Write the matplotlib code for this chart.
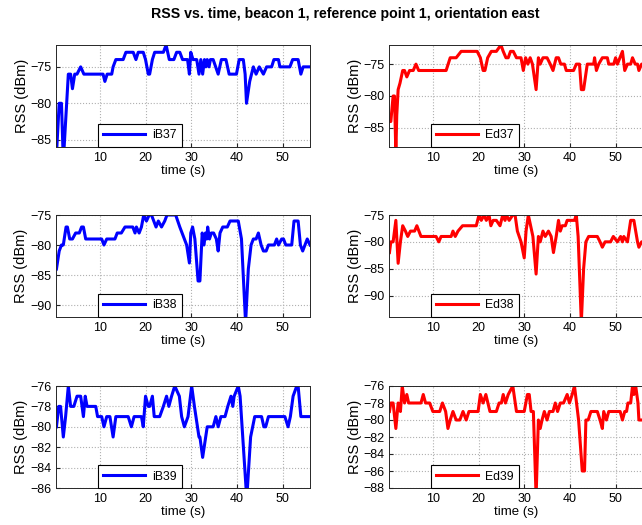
import matplotlib
matplotlib.use("Agg")
import matplotlib.pyplot as plt

plt.rcParams["font.family"] = ["Liberation Sans", "DejaVu Sans"]

# ---- data (time in s, RSS in dBm) ----
t_ib37 = [0.5, 1.1, 1.6, 2.0, 3.1, 3.6, 4.0, 4.5, 5.0, 5.8,
          6.5, 10.7, 11.1, 11.6, 12.6, 12.9, 13.5, 15.1, 15.7, 17.3,
          17.9, 18.4, 19.5, 20.0, 20.6, 20.9, 21.5, 22.0, 23.9, 24.5,
          25.2, 26.2, 26.8, 27.5, 28.1, 29.2, 29.6, 29.9, 30.4, 31.2,
          31.7, 32.1, 32.5, 32.9, 33.2, 33.5, 33.9, 34.2, 34.8, 35.9,
          36.6, 37.6, 38.3, 39.9, 40.5, 41.4, 41.8, 42.1, 42.8, 43.6,
          44.2, 44.9, 45.8, 46.5, 47.6, 48.1, 49.1, 49.4, 51.6, 52.2,
          53.4, 54.0, 54.5, 56.0]
rss_ib37 = [-87, -80, -80, -88, -76, -76, -78, -76, -76, -75,
            -76, -76, -77, -76, -76, -75, -74, -74, -73, -73,
            -74, -73, -73, -74, -76, -76, -74, -73, -73, -72,
            -74, -74, -73, -73, -74, -74, -76, -73, -74, -74,
            -76, -74, -76, -74, -75, -74, -75, -74, -74, -76,
            -74, -74, -76, -76, -74, -74, -76, -80, -77, -75,
            -76, -75, -76, -75, -75, -74, -74, -75, -75, -74,
            -74, -76, -75, -75]

t_ed37 = [0.5, 0.8, 1.3, 1.6, 1.9, 2.1, 2.4, 2.8, 3.4, 3.8,
          4.3, 4.9, 5.7, 6.3, 6.9, 12.9, 13.8, 15.1, 16.2, 19.7,
          20.4, 21.0, 21.4, 22.0, 22.8, 23.9, 24.9, 25.4, 26.0, 26.5,
          27.0, 27.6, 28.3, 29.3, 29.8, 30.3, 30.8, 31.3, 31.8, 32.6,
          33.1, 33.5, 34.1, 35.0, 35.7, 36.3, 37.0, 37.5, 38.0, 38.8,
          39.2, 40.8, 41.4, 42.1, 42.5, 43.0, 43.8, 45.2, 45.4, 45.8,
          46.3, 47.1, 48.2, 48.5, 49.6, 50.0, 50.4, 51.5, 52.0, 52.6,
          53.3, 53.7, 54.3, 54.8, 55.1, 55.7, 56.2]
rss_ed37 = [-84, -84, -80, -80, -89, -83, -79, -78, -76, -76,
            -77, -76, -76, -75, -76, -76, -74, -74, -73, -73,
            -74, -76, -76, -74, -73, -73, -72, -73, -74, -74,
            -73, -73, -74, -74, -76, -74, -75, -74, -75, -79,
            -74, -75, -74, -74, -75, -76, -74, -74, -75, -75,
            -76, -76, -75, -75, -79, -79, -75, -75, -74, -76,
            -75, -74, -74, -75, -75, -74, -75, -73, -76, -75,
            -75, -74, -75, -75, -76, -75, -75]

t_ib38 = [0.5, 1.1, 1.6, 2.0, 2.6, 2.9, 3.4, 4.0, 4.7, 5.5,
          6.0, 6.4, 6.9, 10.4, 10.9, 11.5, 13.3, 13.8, 14.7, 15.5,
          17.2, 17.7, 18.0, 18.6, 19.1, 19.6, 20.2, 20.8, 21.3, 21.8,
          22.3, 22.8, 23.5, 24.2, 24.7, 26.6, 27.5, 29.0, 29.6, 29.9,
          30.3, 30.8, 31.5, 31.9, 32.4, 32.8, 33.1, 33.4, 33.6, 34.0,
          34.4, 34.9, 35.5, 35.9, 36.3, 36.9, 37.9, 38.5, 40.3, 41.0,
          41.9, 42.5, 43.1, 43.6, 44.2, 44.7, 45.3, 45.8, 46.4, 46.9,
          48.2, 48.7, 49.1, 49.8, 50.2, 50.7, 52.0, 52.5, 53.4, 53.9,
          54.4, 54.9, 55.4, 56.0]
rss_ib38 = [-84, -81, -80, -80, -77, -77, -79, -79, -78, -78,
            -77, -77, -79, -79, -80, -79, -79, -78, -78, -77,
            -77, -78, -77, -78, -77, -75, -76, -75, -75, -76,
            -77, -76, -77, -76, -75, -75, -77, -80, -83, -78,
            -77, -79, -86, -86, -78, -80, -78, -79, -77, -79,
            -78, -78, -79, -81, -78, -77, -77, -76, -76, -79,
            -93, -84, -80, -79, -79, -78, -80, -81, -81, -80,
            -80, -79, -80, -79, -79, -80, -80, -76, -76, -80,
            -81, -80, -79, -80]

t_ed38 = [0.5, 0.8, 1.3, 1.9, 2.4, 2.9, 3.4, 4.0, 4.5, 5.1,
          6.0, 6.5, 7.4, 10.7, 11.3, 11.8, 14.0, 14.4, 14.9, 15.5,
          16.5, 19.5, 20.1, 20.6, 21.2, 21.7, 22.3, 22.7, 23.2, 23.9,
          24.7, 25.3, 25.8, 26.1, 26.7, 27.5, 28.0, 28.5, 29.3, 30.0,
          30.4, 30.9, 31.9, 32.6, 33.1, 33.5, 34.1, 34.6, 35.3, 35.9,
          36.4, 37.0, 37.5, 37.9, 38.3, 39.0, 39.4, 41.0, 41.4, 41.8,
          42.5, 43.0, 43.5, 44.1, 46.0, 46.6, 47.1, 47.7, 48.9, 49.5,
          50.4, 51.1, 51.5, 51.8, 52.6, 53.3, 54.0, 54.8, 55.1, 55.7,
          56.6]
rss_ed38 = [-82, -80, -80, -76, -84, -80, -77, -78, -79, -78,
            -78, -77, -79, -79, -80, -79, -79, -78, -79, -78,
            -77, -77, -75, -76, -75, -76, -75, -77, -76, -76,
            -77, -75, -76, -75, -76, -75, -75, -78, -80, -83,
            -78, -75, -79, -86, -79, -80, -78, -79, -78, -79,
            -82, -79, -76, -78, -77, -77, -76, -76, -75, -79,
            -95, -85, -80, -79, -79, -80, -81, -80, -80, -79,
            -80, -79, -80, -79, -80, -76, -76, -80, -81, -80,
            -80]

t_ib39 = [0.5, 1.0, 1.4, 2.0, 2.5, 3.1, 3.6, 4.3, 5.0, 5.8,
          6.4, 6.8, 7.2, 9.1, 9.5, 10.4, 10.9, 11.5, 12.2, 12.9,
          13.5, 16.2, 16.9, 17.5, 19.1, 19.5, 20.0, 20.6, 20.9, 21.5,
          21.9, 23.1, 23.9, 24.6, 25.1, 25.7, 26.4, 27.4, 27.9, 28.5,
          29.3, 30.1, 30.7, 31.7, 31.9, 32.5, 33.5, 34.8, 35.4, 35.9,
          36.5, 37.4, 38.0, 38.7, 39.1, 39.4, 40.3, 40.7, 42.0, 42.3,
          43.0, 43.9, 45.4, 45.9, 46.3, 46.9, 50.5, 51.2, 51.7, 52.3,
          53.1, 53.4, 54.0, 56.0]
rss_ib39 = [-80, -78, -78, -81, -79, -76, -78, -78, -77, -77,
            -79, -77, -78, -78, -79, -79, -80, -79, -79, -81,
            -79, -79, -80, -79, -79, -80, -77, -78, -78, -77,
            -79, -79, -78, -77, -78, -77, -76, -77, -79, -80,
            -79, -76, -78, -81, -81, -83, -80, -80, -79, -80,
            -79, -79, -78, -77, -78, -77, -76, -77, -86, -86,
            -81, -79, -79, -80, -80, -79, -79, -80, -79, -77,
            -76, -76, -79, -79]

t_ed39 = [0.5, 0.8, 1.3, 1.9, 2.4, 2.9, 3.3, 3.8, 4.3, 4.7,
          7.4, 7.9, 8.4, 9.3, 10.0, 11.5, 12.1, 12.8, 13.3, 13.8,
          14.4, 15.1, 15.9, 16.6, 17.3, 17.9, 19.9, 20.4, 21.0, 21.6,
          22.5, 23.9, 24.5, 25.0, 25.4, 25.9, 26.5, 27.5, 28.3, 30.0,
          30.7, 31.1, 31.5, 32.0, 32.6, 33.1, 33.5, 33.9, 34.4, 35.0,
          35.5, 36.3, 36.8, 37.3, 37.9, 38.6, 39.4, 39.9, 40.5, 41.0,
          41.9, 42.7, 43.2, 43.5, 44.0, 44.6, 46.0, 46.6, 47.1, 47.4,
          48.0, 48.5, 51.0, 51.5, 52.0, 52.4, 52.7, 53.3, 53.7, 54.0,
          54.4, 54.9, 55.1, 55.9]
rss_ed39 = [-79, -78, -78, -81, -78, -79, -76, -78, -77, -78,
            -78, -77, -78, -78, -79, -79, -78, -79, -81, -80,
            -79, -80, -80, -79, -80, -79, -79, -77, -78, -77,
            -79, -79, -78, -78, -77, -78, -77, -76, -79, -79,
            -77, -77, -79, -79, -89, -80, -81, -80, -79, -80,
            -79, -79, -78, -79, -78, -78, -77, -78, -77, -76,
            -80, -86, -86, -80, -80, -79, -79, -80, -81, -79,
            -80, -79, -79, -80, -79, -79, -78, -78, -76, -77,
            -76, -78, -80, -80]

labels = ["iB37", "Ed37", "iB38", "Ed38", "iB39", "Ed39"]
ylims = [(-86, -72), (-88, -72), (-92, -75), (-94, -75), (-86, -76), (-88, -76)]
yticks = [[-85, -80, -75], [-85, -80, -75],
          [-90, -85, -80, -75], [-90, -85, -80, -75],
          [-86, -84, -82, -80, -78, -76], [-88, -86, -84, -82, -80, -78, -76]]
series = [(t_ib37, rss_ib37), (t_ed37, rss_ed37), (t_ib38, rss_ib38),
          (t_ed38, rss_ed38), (t_ib39, rss_ib39), (t_ed39, rss_ed39)]

fig = plt.figure(figsize=(6.42, 5.25), dpi=100)
fig.text(0.537, 0.974, "RSS vs. time, beacon 1, reference point 1, orientation east",
         ha="center", va="center", fontsize=10.2, fontweight="bold")

col_x = [56 / 642, 389 / 642]
row_y = [1 - 147 / 525, 1 - 317 / 525, 1 - 488 / 525]
w, h = 254 / 642, 102 / 525

for i, ((t, rss), lab) in enumerate(zip(series, labels)):
    r, c = divmod(i, 2)
    ax = fig.add_axes([col_x[c], row_y[r], w, h])
    color = "#0000ff" if c == 0 else "#ff0000"
    ax.plot(t, rss, color=color, lw=2.2, label=lab)
    ax.set_xlim(0.4, 56)
    ax.set_ylim(*ylims[i])
    ax.set_xticks([10, 20, 30, 40, 50])
    ax.set_yticks(yticks[i])
    ax.grid(True, linestyle=":", color="#b0b0b0", lw=0.8)
    ax.tick_params(direction="in", length=3, labelsize=9, colors="#262626",
                   labelcolor="black")
    for sp in ax.spines.values():
        sp.set_color("#262626")
        sp.set_linewidth(0.7)
    ax.set_xlabel("time (s)", fontsize=9.5, labelpad=1)
    ax.set_ylabel("RSS (dBm)", fontsize=10.5, labelpad=1)
    leg = ax.legend(loc="lower left", bbox_to_anchor=(0.165, 0.0), borderaxespad=0,
                    fontsize=8.8, handlelength=3.4, fancybox=False, framealpha=1,
                    edgecolor="black", borderpad=0.45, handletextpad=0.6)
    leg.get_frame().set_linewidth(0.8)

fig.savefig("out.png", dpi=100)
